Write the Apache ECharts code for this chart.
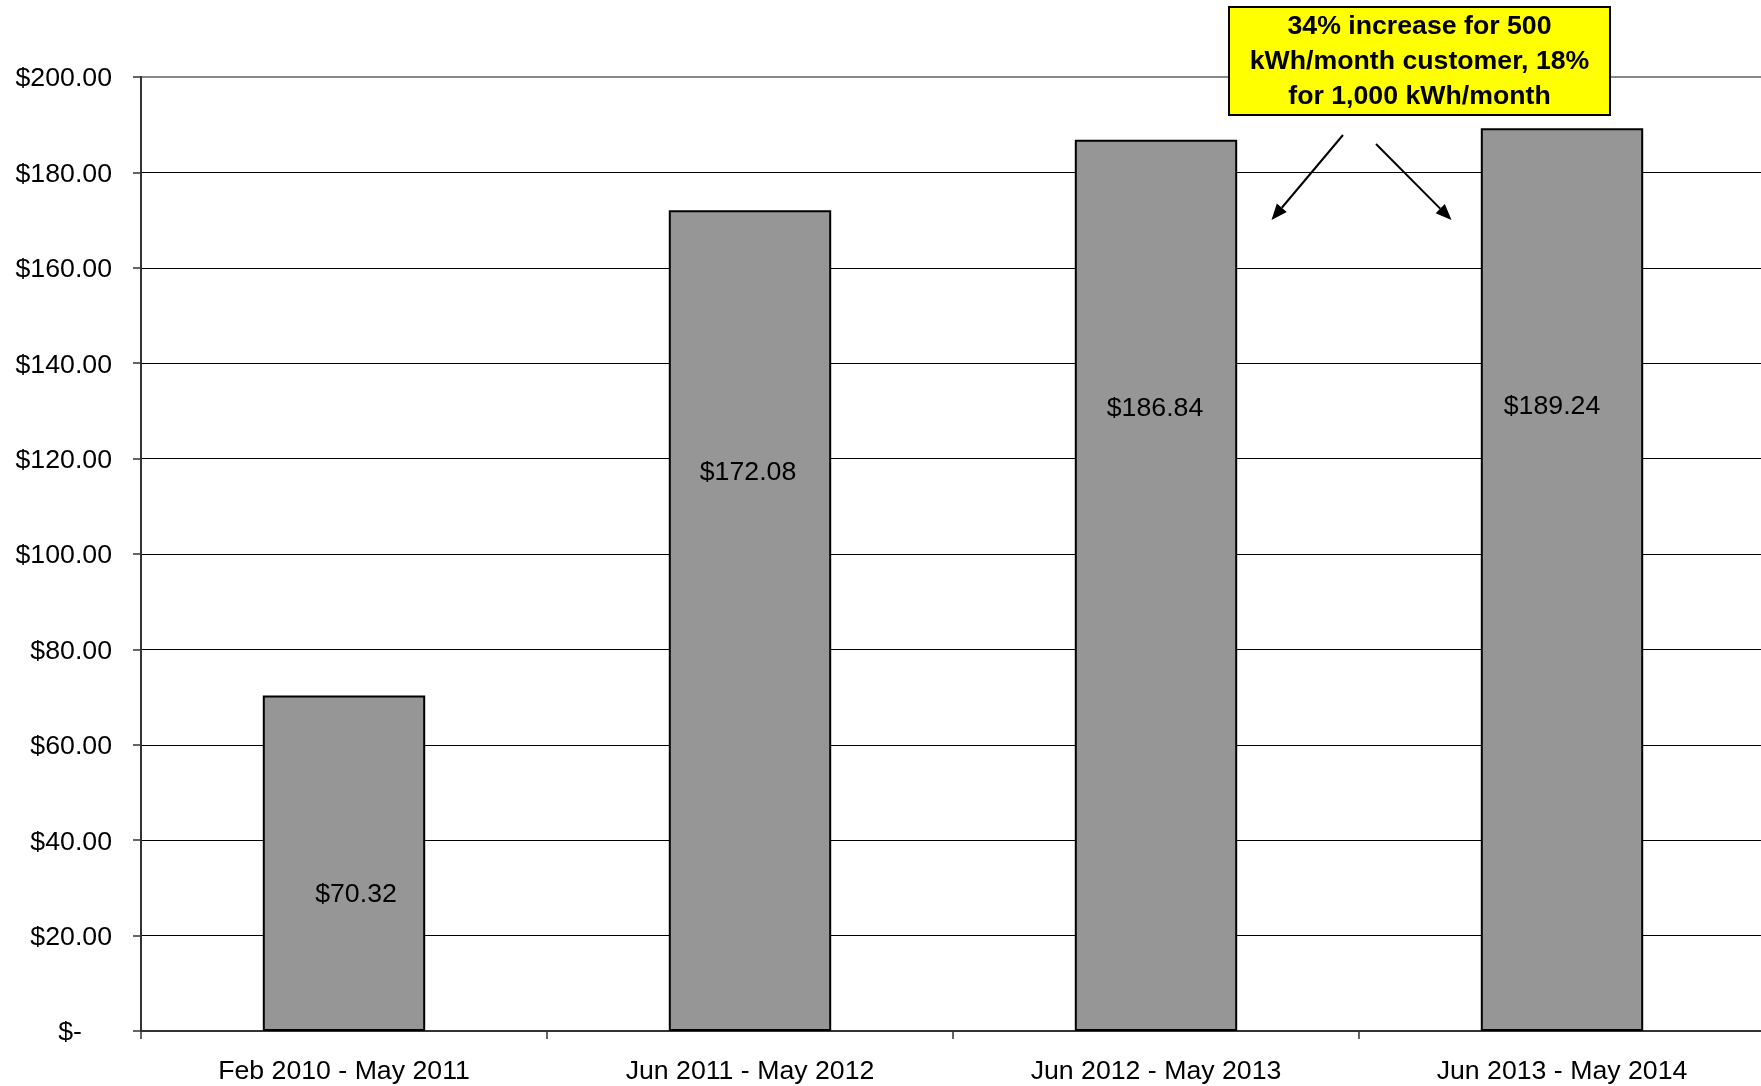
<!DOCTYPE html>
<html>
<head>
<meta charset="utf-8">
<script src="https://cdn.jsdelivr.net/npm/echarts@6/dist/echarts.min.js"></script>
<style>
html,body{margin:0;padding:0;background:#fff;overflow:hidden;width:1761px;height:1086px;}
#c{width:1765px;height:1086px;}
</style>
</head>
<body>
<div id="c"></div>
<script>
const categories = ['Feb 2010 - May 2011', 'Jun 2011 - May 2012', 'Jun 2012 - May 2013', 'Jun 2013 - May 2014'];
const billValues = [70.32, 172.08, 186.84, 189.24];
const yTicks = [0, 20, 40, 60, 80, 100, 120, 140, 160, 180, 200];
const calloutLines = ['34% increase for 500', 'kWh/month customer, 18%', 'for 1,000 kWh/month'];

// label placement (px, relative to bar top / bar centre)
const labelDx = [12, -2, -1, -10];
const labelDy = [199, 262, 269, 278];

const FONT = 'Liberation Sans, Arial, sans-serif';
const FS = 26.7;
const chart = echarts.init(document.getElementById('c'), null, {renderer: 'canvas'});

function fmtMoney(v) {
  if (v === 0) return '{z|$-}';
  return '$' + v.toFixed(2);
}

function arrow(x1, y1, x2, y2) {
  const ang = Math.atan2(y2 - y1, x2 - x1);
  const L = 16, W = 6.5;
  const bx = x2 - L * Math.cos(ang), by = y2 - L * Math.sin(ang);
  const px = -Math.sin(ang) * W, py = Math.cos(ang) * W;
  return [
    {type: 'line', shape: {x1: x1, y1: y1, x2: bx, y2: by}, style: {stroke: '#000', lineWidth: 2}, z: 100},
    {type: 'polygon', shape: {points: [[x2, y2], [bx + px, by + py], [bx - px, by - py]]}, style: {fill: '#000'}, z: 100}
  ];
}

const option = {
  backgroundColor: '#fff',
  animation: false,
  grid: {left: 141, top: 77, right: 0, height: 954, show: true, borderColor: '#888', borderWidth: 2, backgroundColor: 'transparent', containLabel: false},
  xAxis: {
    type: 'category',
    data: categories,
    axisLine: {lineStyle: {color: '#333', width: 2}},
    axisTick: {show: true, length: 8, lineStyle: {color: '#333', width: 1.5}},
    axisLabel: {fontFamily: FONT, fontSize: FS, color: '#000', margin: 27, interval: 0},
    splitLine: {show: false}
  },
  yAxis: {
    type: 'value',
    min: yTicks[0],
    max: yTicks[yTicks.length - 1],
    interval: 20,
    axisLine: {show: true, lineStyle: {color: '#333', width: 2}},
    axisTick: {show: true, length: 8, lineStyle: {color: '#333', width: 1.5}},
    axisLabel: {
      fontFamily: FONT, fontSize: FS, color: '#000', margin: 29,
      padding: [4, 0, 0, 0],
      formatter: fmtMoney,
      rich: {z: {fontFamily: FONT, fontSize: FS, color: '#000', padding: [0, 30, 0, 0]}}
    },
    splitLine: {show: true, lineStyle: {color: ['#000','#000','#000','#000','#000','#000','#000','#000','#000','#000','#888'], width: 1}}
  },
  series: [{
    type: 'bar',
    barWidth: '40%',
    data: billValues.map((v, i) => ({
      value: v,
      label: {position: ['50%', labelDy[i]], offset: [labelDx[i], 0]}
    })),
    itemStyle: {color: '#969696', borderColor: '#000', borderWidth: 2},
    label: {
      show: true,
      align: 'center',
      verticalAlign: 'middle',
      fontFamily: FONT,
      fontSize: FS,
      color: '#000',
      formatter: p => '$' + p.value.toFixed(2)
    }
  }],
  graphic: [
    {type: 'rect', shape: {x: 1229, y: 7, width: 381, height: 108}, style: {fill: '#ffff00', stroke: '#000', lineWidth: 2}, z: 100},
    {type: 'text', x: 1419.5, y: 62, z: 101, style: {
      text: calloutLines.join('\n'), fill: '#000', font: 'bold 26.7px ' + FONT,
      align: 'center', verticalAlign: 'middle', lineHeight: 35
    }}
  ].concat(arrow(1343, 135, 1271.5, 220)).concat(arrow(1376, 144, 1451.5, 220))
};
chart.setOption(option);
</script>
</body>
</html>
